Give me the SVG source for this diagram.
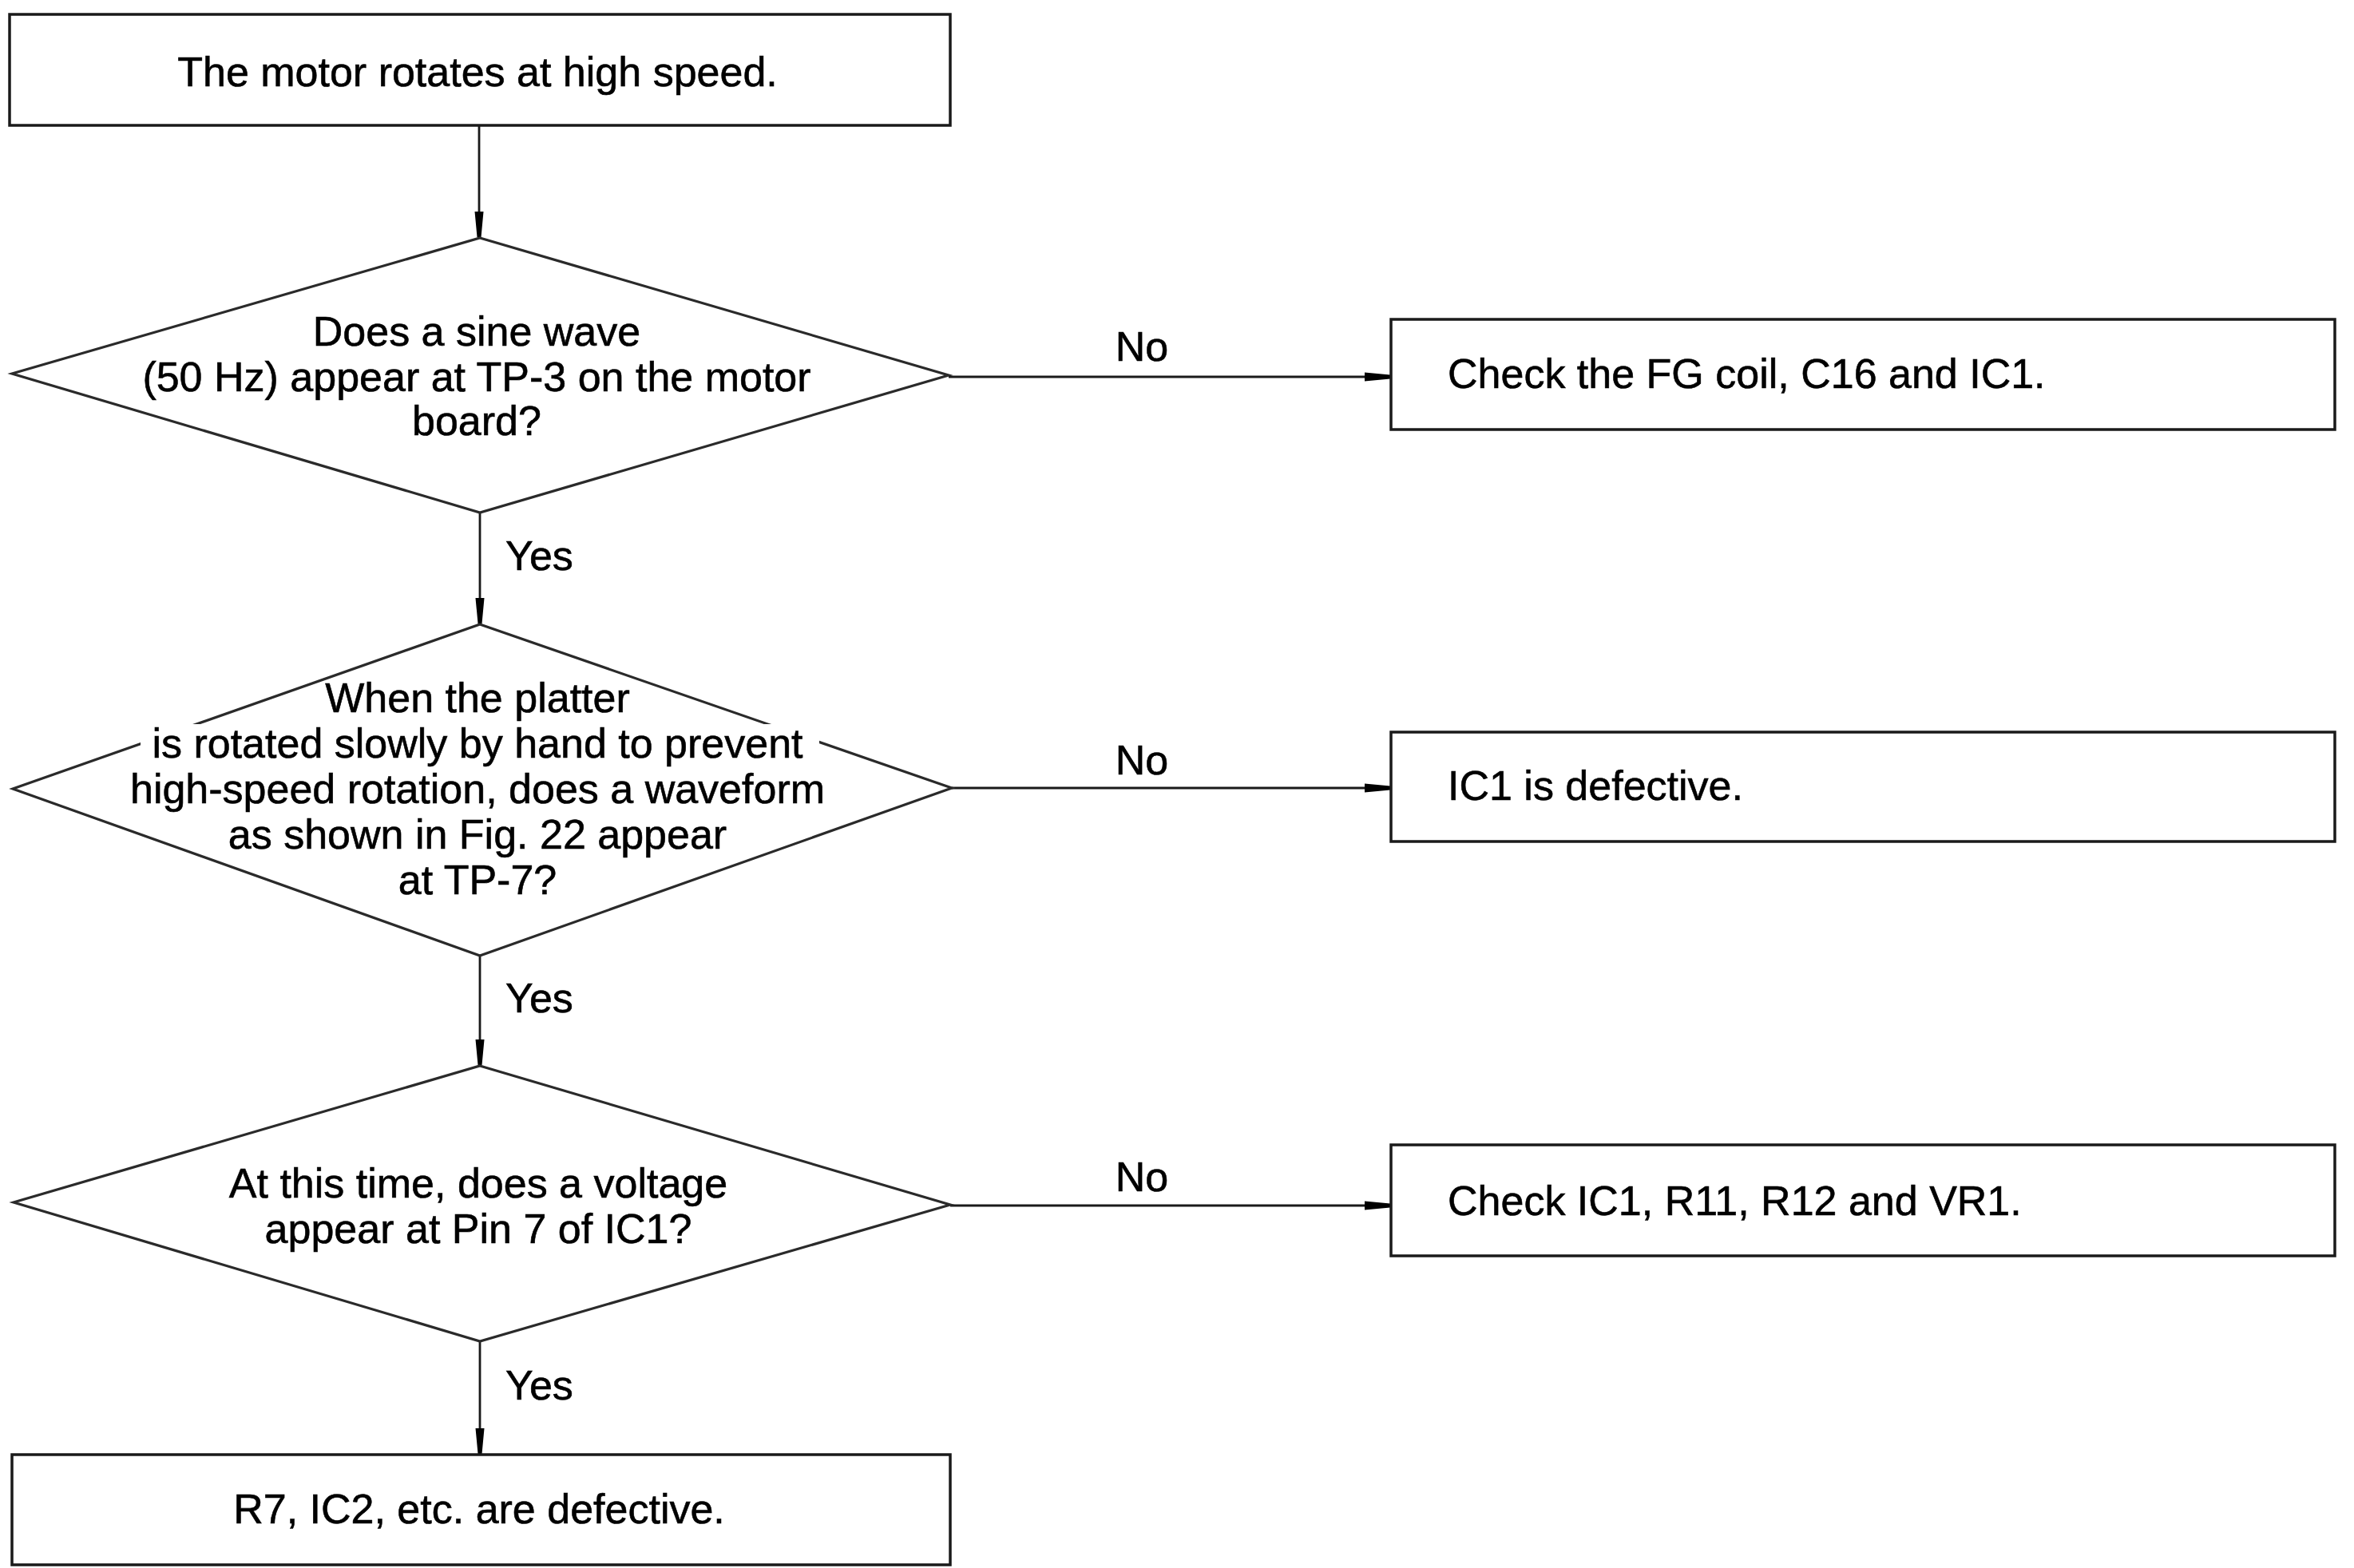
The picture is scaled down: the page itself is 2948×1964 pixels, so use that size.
<svg xmlns="http://www.w3.org/2000/svg" width="2948" height="1964" viewBox="0 0 2948 1964">
<style>
.box{fill:#fff;stroke:#1a1a1a;stroke-width:3.5}
.dia{fill:#fff;stroke:#2a2a2a;stroke-width:3.2}
.ln{fill:none;stroke:#1a1a1a;stroke-width:2.8}
.t{font-family:"Liberation Sans",Arial,Helvetica,sans-serif;font-size:52px;fill:#000;stroke:#000;stroke-width:0.6}
.c{text-anchor:middle}
</style>
<defs>
<marker id="ah" markerUnits="userSpaceOnUse" markerWidth="34" markerHeight="14" refX="32" refY="7" orient="auto">
<path d="M0,1.5 L32,4.5 L32,9.5 L0,12.5 z" fill="#000"/>
</marker>
</defs>
<rect width="2948" height="1964" fill="#fff"/>
<g id="connectors">
<line class="ln" x1="600" y1="157" x2="600" y2="297" marker-end="url(#ah)"/>
<line class="ln" x1="601" y1="642" x2="601" y2="781" marker-end="url(#ah)"/>
<line class="ln" x1="601" y1="1197" x2="601" y2="1334" marker-end="url(#ah)"/>
<line class="ln" x1="601" y1="1680" x2="601" y2="1821" marker-end="url(#ah)"/>
<line class="ln" x1="1188" y1="472" x2="1741" y2="472" marker-end="url(#ah)"/>
<line class="ln" x1="1192" y1="987" x2="1741" y2="987" marker-end="url(#ah)"/>
<line class="ln" x1="1190" y1="1510" x2="1741" y2="1510" marker-end="url(#ah)"/>
<text class="t" x="633" y="714">Yes</text>
<text class="t" x="633" y="1268">Yes</text>
<text class="t" x="633" y="1753">Yes</text>
<text class="t c" x="1430" y="452">No</text>
<text class="t c" x="1430" y="970">No</text>
<text class="t c" x="1430" y="1492">No</text>
</g>
<g id="start">
<rect class="box" x="12" y="18" width="1178" height="139"/>
<text class="t c" x="598" y="108">The motor rotates at high speed.</text>
</g>
<g id="q1">
<polygon class="dia" points="601,298 1188,470 601,642 15,468"/>
<text class="t c" x="597" y="433">Does a sine wave</text>
<text class="t c" x="597" y="490">(50 Hz) appear at TP-3 on the motor</text>
<text class="t c" x="597" y="545">board?</text>
</g>
<g id="r1">
<rect class="box" x="1742" y="400" width="1182" height="138"/>
<text class="t" x="1813" y="486">Check the FG coil, C16 and IC1.</text>
</g>
<g id="q2">
<polygon class="dia" points="601,782 1192,987 601,1197 16,988"/>
<rect x="176" y="907" width="850" height="33" fill="#fff"/>
<text class="t c" x="598" y="892">When the platter</text>
<text class="t c" x="598" y="949">is rotated slowly by hand to prevent</text>
<text class="t c" x="598" y="1006">high-speed rotation, does a waveform</text>
<text class="t c" x="598" y="1063">as shown in Fig. 22 appear</text>
<text class="t c" x="598" y="1120">at TP-7?</text>
</g>
<g id="r2">
<rect class="box" x="1742" y="917" width="1182" height="137"/>
<text class="t" x="1813" y="1002">IC1 is defective.</text>
</g>
<g id="q3">
<polygon class="dia" points="601,1335 1190,1509 601,1680 17,1506"/>
<text class="t c" x="599" y="1500">At this time, does a voltage</text>
<text class="t c" x="599" y="1557">appear at Pin 7 of IC1?</text>
</g>
<g id="r3">
<rect class="box" x="1742" y="1434" width="1182" height="139"/>
<text class="t" x="1813" y="1522">Check IC1, R11, R12 and VR1.</text>
</g>
<g id="end">
<rect class="box" x="15" y="1822" width="1175" height="138"/>
<text class="t c" x="600" y="1908">R7, IC2, etc. are defective.</text>
</g>
</svg>
